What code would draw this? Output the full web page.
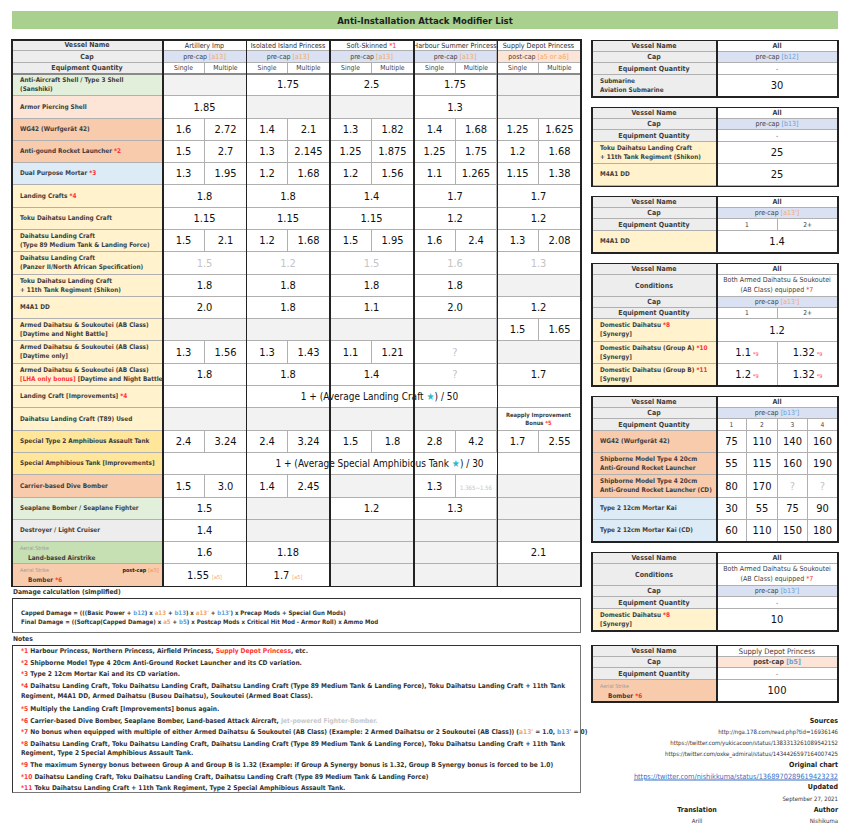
<!DOCTYPE html>
<html><head><meta charset="utf-8">
<script src="https://cdn.jsdelivr.net/npm/chart.js@4.4.1/dist/chart.umd.min.js"></script>
<style>
html,body{margin:0;padding:0;background:#fff;}
#root{position:relative;width:850px;height:837px;overflow:hidden;font-family:"Liberation Sans Narrow","DejaVu Sans Condensed",Roboto,sans-serif;color:#333;}
.c{position:absolute;box-sizing:border-box;display:flex;align-items:center;justify-content:center;text-align:center;white-space:nowrap;}
.t{position:absolute;white-space:nowrap;}
.red{color:#ff3333}
.or{color:#f4a868}
.bl{color:#6a9fd8}
.dim{color:#c4c4c4}
</style></head>
<body><div id="root"></div>
<script>
// ---------------- DATA ----------------
const title = "Anti-Installation Attack Modifier List";
const vessels = ["Artillery Imp","Isolated Island Princess","Soft-Skinned *1","Harbour Summer Princess","Supply Depot Princess"];
const caps = ["pre-cap","pre-cap","pre-cap","pre-cap","post-cap"];
const capRefs = ["[a13]","[a13]","[a13]","[a13]","[a5 or a6]"];
const quantities = ["Single","Multiple"];

const aaShell        = [null,"1.75","2.5","1.75",null];
const apShell        = ["1.85",null,null,"1.3",null];
const wg42           = [["1.6","2.72"],["1.4","2.1"],["1.3","1.82"],["1.4","1.68"],["1.25","1.625"]];
const rocketLauncher = [["1.5","2.7"],["1.3","2.145"],["1.25","1.875"],["1.25","1.75"],["1.2","1.68"]];
const dualMortar     = [["1.3","1.95"],["1.2","1.68"],["1.2","1.56"],["1.1","1.265"],["1.15","1.38"]];
const landingCrafts  = ["1.8","1.8","1.4","1.7","1.7"];
const tokuDaihatsu   = ["1.15","1.15","1.15","1.2","1.2"];
const daihatsuT89    = [["1.5","2.1"],["1.2","1.68"],["1.5","1.95"],["1.6","2.4"],["1.3","2.08"]];
const daihatsuPz2    = [{v:"1.5",dim:true},{v:"1.2",dim:true},{v:"1.5",dim:true},{v:"1.6",dim:true},{v:"1.3",dim:true}];
const toku11th       = ["1.8","1.8","1.8","1.8",null];
const m4a1dd         = ["2.0","1.8","1.1","2.0","1.2"];
const armedDayNight  = [null,null,null,null,["1.5","1.65"]];
const armedDay       = [["1.3","1.56"],["1.3","1.43"],["1.1","1.21"],{v:"?",dim:true},null];
const armedLHA       = ["1.8","1.8","1.4",{v:"?",dim:true},"1.7"];
const landingImprovement = "1 + (Average Landing Craft ★) / 50";
const t89Used        = [null,null,null,null,{v:"Reapply Improvement|Bonus *5",note:true}];
const specialType2   = [["2.4","3.24"],["2.4","3.24"],["1.5","1.8"],["2.8","4.2"],["1.7","2.55"]];
const amphibImprovement = "1 + (Average Special Amphibious Tank ★) / 30";
const diveBomber     = [["1.5","3.0"],["1.4","2.45"],null,["1.3",{v:"1.365~1.56",dim:true,tiny:true}],null];
const seaplane       = ["1.5",null,"1.2","1.3",null];
const destroyer      = ["1.4",null,null,null,null];
const landAirstrike  = ["1.6","1.18",null,null,"2.1"];
const bomberStrike   = [{v:"1.55",ref:"[a5]"},{v:"1.7",ref:"[a5]"},null,null,null];

const submarineLabels = [["Submarine","Aviation Submarine"]];
const submarineValues = [["30"]];
const shikonLabels = [["Toku Daihatsu Landing Craft","+ 11th Tank Regiment (Shikon)"],["M4A1 DD"]];
const shikonValues = [["25"],["25"]];
const ddLabels = [["M4A1 DD"]];
const ddValues = [["1.4"]];
const synergyLabels = [["Domestic Daihatsu *8","[Synergy]"],["Domestic Daihatsu (Group A) *10","[Synergy]"],["Domestic Daihatsu (Group B) *11","[Synergy]"]];
const synergyValues = [["1.2"],["1.1 *9","1.32 *9"],["1.2 *9","1.32 *9"]];
const rocketLabels = [["WG42 (Wurfgerät 42)"],["Shipborne Model Type 4 20cm","Anti-Ground Rocket Launcher"],["Shipborne Model Type 4 20cm","Anti-Ground Rocket Launcher (CD)"],["Type 2 12cm Mortar Kai"],["Type 2 12cm Mortar Kai (CD)"]];
const rocketValues = [["75","110","140","160"],["55","115","160","190"],["80","170","?","?"],["30","55","75","90"],["60","110","150","180"]];
const domesticLabels = [["Domestic Daihatsu *8","[Synergy]"]];
const domesticValues = [["10"]];
const depotLabels = [["Bomber *6"]];
const depotValues = [["100"]];
const conditionText = ["Both Armed Daihatsu & Soukoutei","(AB Class) equipped *7"];

const damageLines = [
 "Capped Damage = (((Basic Power + b12) x a13 + b13) x a13' + b13') x Precap Mods + Special Gun Mods)",
 "Final Damage = ((Softcap(Capped Damage) x a5 + b5) x Postcap Mods x Critical Hit Mod - Armor Roll) x Ammo Mod"
];
const notes = [
 ["*1 Harbour Princess, Northern Princess, Airfield Princess, {r}Supply Depot Princess{/}, etc."],
 ["*2 Shipborne Model Type 4 20cm Anti-Ground Rocket Launcher and its CD variation."],
 ["*3 Type 2 12cm Mortar Kai and its CD variation."],
 ["*4 Daihatsu Landing Craft, Toku Daihatsu Landing Craft, Daihatsu Landing Craft (Type 89 Medium Tank & Landing Force), Toku Daihatsu Landing Craft + 11th Tank","Regiment, M4A1 DD, Armed Daihatsu (Busou Daihatsu), Soukoutei (Armed Boat Class)."],
 ["*5 Multiply the Landing Craft [Improvements] bonus again."],
 ["*6 Carrier-based Dive Bomber, Seaplane Bomber, Land-based Attack Aircraft, {g}Jet-powered Fighter-Bomber.{/}"],
 ["*7 No bonus when equipped with multiple of either Armed Daihatsu & Soukoutei (AB Class) (Example: 2 Armed Daihatsu or 2 Soukoutei (AB Class)) (a13' = 1.0, b13' = 0)"],
 ["*8 Daihatsu Landing Craft, Toku Daihatsu Landing Craft, Daihatsu Landing Craft (Type 89 Medium Tank & Landing Force), Toku Daihatsu Landing Craft + 11th Tank","Regiment, Type 2 Special Amphibious Assault Tank."],
 ["*9 The maximum Synergy bonus between Group A and Group B is 1.32 (Example: if Group A Synergy bonus is 1.32, Group B Synergy bonus is forced to be 1.0)"],
 ["*10 Daihatsu Landing Craft, Toku Daihatsu Landing Craft, Daihatsu Landing Craft (Type 89 Medium Tank & Landing Force)"],
 ["*11 Toku Daihatsu Landing Craft + 11th Tank Regiment, Type 2 Special Amphibious Assault Tank."]
];
const sources = ["http://nga.178.com/read.php?tid=16936146","https://twitter.com/yukicacoon/status/1383313261089542152","https://twitter.com/oxke_admiral/status/1434426597164007425"];
const originalChart = "https://twitter.com/nishikkuma/status/1368970289619423232";
const updated = "September 27, 2021";
const translator = "Arill";
const author = "Nishikuma";

// ---------------- RENDER ----------------
const GREEN='#e2efda', PINK='#fce4d6', SALMON='#f8cbad', BLUE='#ddebf7', YELLOW='#fff2cc', GOLD='#ffe699', LGRAY='#ededed', DGREEN='#c6e0b4';
const HEAD='#ededed', CAPBLUE='#d9e1f2', EMPTY='#f2f2f2';
const GRID='#b0b0b0', DARK='#222';
const root=document.getElementById('root');
const r=Math.round;

function box(x,y,w,h,css,html){const d=document.createElement('div');d.className='c';Object.assign(d.style,{left:x+'px',top:y+'px',width:w+'px',height:h+'px'},css||{});if(html!=null)d.innerHTML=html;root.appendChild(d);return d;}
function cell(x1,y1,x2,y2,bg,html,css){
 if(html && !(css && css.flexDirection==='column')) html=`<span>${html}</span>`;
 return box(r(x1),r(y1),r(x2)-r(x1),r(y2)-r(y1),Object.assign({background:bg||'#fff',borderRight:'1px solid '+GRID,borderBottom:'1px solid '+GRID},css||{}),html);}
function vline(x,y1,y2,c,w){box(x-w/2,y1-w/2,w,y2-y1+w,{background:c});}
function hline(y,x1,x2,c,w){box(x1-w/2,y-w/2,x2-x1+w,w,{background:c});}
function txt(x,y,html,css,align){const d=document.createElement('div');d.className='t';d.innerHTML=html;const st={top:y+'px',transform:'translateY(-50%)'};
 if(align==='r'){st.right=(850-x)+'px';}else if(align==='c'){st.left=x+'px';st.transform='translate(-50%,-50%)';}else st.left=x+'px';
 Object.assign(d.style,st,css||{});root.appendChild(d);return d;}
function fmt(s){return s.replace(/\[LHA only bonus\]/,'<span class="red">$&</span>').replace(/\*\d+/g,'<span class="red">$&</span>');}
function refs(s){return s.replace(/\b([ab])(\d+)('?)/g,(m,a)=>`<span class="${a==='a'?'or':'bl'}">${m}</span>`);}
function capHTML(c,ref){return `${c} <span class="${ref.startsWith('[b')?'bl':'or'}">${ref}</span>`;}
const LABEL={flexDirection:'column',alignItems:'flex-start',justifyContent:'center',paddingLeft:'8px',fontSize:'6.4px',fontWeight:'bold',lineHeight:'8.6px',color:'#3d3d3d',textAlign:'left'};
const HDR={fontSize:'7px',fontWeight:'bold',color:'#3d3d3d'};
const VAL={fontSize:'11px',color:'#111'};
function valHTML(e){
 if(typeof e==='string') return e.replace(/ ?\*\d+/,m=>`<span class="red" style="font-size:5.5px;margin-left:2px">${m.trim()}</span>`);
 let v=e.v;
 if(e.note) return `<div style="font-size:5.8px;font-weight:bold;line-height:8.5px;color:#3d3d3d">${v.split('|').map(fmt).join('<br>')}</div>`;
 if(e.ref) v=`${v}<span class="or" style="font-size:5.5px;margin-left:3px">${e.ref}</span>`;
 if(e.dim) v=`<span class="dim" style="${e.tiny?'font-size:6px':''}">${v}</span>`;
 return v;
}

// title
box(12,11,826,18,{background:'#a9d08e',fontSize:'9.5px',fontWeight:'bold',color:'#1e1e1e'},title);

// left table
const LX0=12, LXL=163, LX1=581, GW=(LX1-LXL)/5, LY0=40, HH=11.33, RH=22.29;
const gx=g=>LXL+g*GW;
const hy=[LY0,LY0+HH,LY0+2*HH,LY0+3*HH];
cell(LX0,hy[0],LXL,hy[1],HEAD,'Vessel Name',HDR);
cell(LX0,hy[1],LXL,hy[2],HEAD,'Cap',HDR);
cell(LX0,hy[2],LXL,hy[3],HEAD,'Equipment Quantity',HDR);
vessels.forEach((v,g)=>{
 cell(gx(g),hy[0],gx(g+1),hy[1],'#fff',fmt(v),Object.assign({},HDR,{fontWeight:'normal',fontSize:'7.1px',color:'#2a2a2a'}));
 cell(gx(g),hy[1],gx(g+1),hy[2],caps[g]==='pre-cap'?CAPBLUE:PINK,capHTML(caps[g],capRefs[g]),Object.assign({},HDR,{fontWeight:'normal',fontSize:'7px'}));
 quantities.forEach((q,k)=>cell(gx(g)+k*GW/2,hy[2],gx(g)+(k+1)*GW/2,hy[3],'#fff',q,Object.assign({},HDR,{fontWeight:'normal',fontSize:'6.8px'})));
});
const bodyRows=[
 {label:["Anti-Aircraft Shell / Type 3 Shell","(Sanshiki)"],bg:GREEN,vals:aaShell},
 {label:["Armor Piercing Shell"],bg:PINK,vals:apShell},
 {label:["WG42 (Wurfgerät 42)"],bg:SALMON,vals:wg42},
 {label:["Anti-gound Rocket Launcher *2"],bg:SALMON,vals:rocketLauncher},
 {label:["Dual Purpose Mortar *3"],bg:BLUE,vals:dualMortar},
 {label:["Landing Crafts *4"],bg:YELLOW,vals:landingCrafts},
 {label:["Toku Daihatsu Landing Craft"],bg:YELLOW,vals:tokuDaihatsu},
 {label:["Daihatsu Landing Craft","(Type 89 Medium Tank & Landing Force)"],bg:YELLOW,vals:daihatsuT89},
 {label:["Daihatsu Landing Craft","(Panzer II/North African Specification)"],bg:YELLOW,vals:daihatsuPz2},
 {label:["Toku Daihatsu Landing Craft","+ 11th Tank Regiment (Shikon)"],bg:YELLOW,vals:toku11th},
 {label:["M4A1 DD"],bg:YELLOW,vals:m4a1dd},
 {label:["Armed Daihatsu & Soukoutei (AB Class)","[Daytime and Night Battle]"],bg:YELLOW,vals:armedDayNight},
 {label:["Armed Daihatsu & Soukoutei (AB Class)","[Daytime only]"],bg:YELLOW,vals:armedDay},
 {label:["Armed Daihatsu & Soukoutei (AB Class)","[LHA only bonus] [Daytime and Night Battle]"],bg:YELLOW,vals:armedLHA},
 {label:["Landing Craft [Improvements] *4"],bg:YELLOW,span:landingImprovement},
 {label:["Daihatsu Landing Craft (T89) Used"],bg:YELLOW,vals:t89Used},
 {label:["Special Type 2 Amphibious Assault Tank"],bg:GOLD,vals:specialType2},
 {label:["Special Amphibious Tank [Improvements]"],bg:GOLD,span:amphibImprovement},
 {label:["Carrier-based Dive Bomber"],bg:SALMON,vals:diveBomber},
 {label:["Seaplane Bomber / Seaplane Fighter"],bg:GREEN,vals:seaplane},
 {label:["Destroyer / Light Cruiser"],bg:LGRAY,vals:destroyer},
 {label:["Land-based Airstrike"],kicker:"Aerial Strike",bg:DGREEN,vals:landAirstrike},
 {label:["Bomber *6"],kicker:"Aerial Strike",tag:"post-cap [a5]",bg:SALMON,vals:bomberStrike}
];
function kickerHTML(label,kicker,tag){
 let h=`<div style="position:absolute;left:8px;top:2px;font-size:5.3px;font-weight:normal;color:#9a9a9a">${kicker}</div><div style="position:absolute;left:16px;top:11.5px">${fmt(label)}</div>`;
 if(tag){const p=tag.split(' ');h+=`<div style="position:absolute;right:3px;top:2px;font-size:5.4px;color:#222">${p[0]} <span class="or">${p[1]}</span></div>`;}
 return h;
}
bodyRows.forEach((row,i)=>{
 const y1=hy[3]+i*RH, y2=y1+RH;
 if(row.kicker) cell(LX0,y1,LXL,y2,row.bg,kickerHTML(row.label[0],row.kicker,row.tag),LABEL);
 else cell(LX0,y1,LXL,y2,row.bg,row.label.map(l=>`<div>${fmt(l)}</div>`).join(''),LABEL);
 if(row.span){
  cell(LXL,y1,LX1,y2,'#fff',row.span.replace('★','<span style="color:#2fb8c8">★</span>'),{fontSize:'10px',color:'#111',paddingLeft:'16px'});
  return;
 }
 row.vals.forEach((e,g)=>{
  if(e===null) cell(gx(g),y1,gx(g+1),y2,EMPTY,'');
  else if(Array.isArray(e)) e.forEach((s,k)=>cell(gx(g)+k*GW/2,y1,gx(g)+(k+1)*GW/2,y2,'#fff',valHTML(s),VAL));
  else cell(gx(g),y1,gx(g+1),y2,'#fff',valHTML(e),VAL);
 });
});
const LY1=hy[3]+bodyRows.length*RH;
hline(hy[3],LX0,LX1,'#8a8a8a',1.2);
[LX0,LXL,gx(1),gx(2),gx(3),gx(4),LX1].forEach(x=>vline(x,LY0,LY1,DARK,1.5));
hline(LY0,LX0,LX1,DARK,1.5); hline(LY1,LX0,LX1,DARK,1.5);

// right tables
const RX0=592, RXS=717, RX1=838;
function rightTable(y0,spec){
 let y=y0;
 const hrow=(lab,h,bg,html,css)=>{cell(RX0,y,RXS,y+h,HEAD,lab,HDR);cell(RXS,y,RX1,y+h,bg,html,css);y+=h;};
 hrow('Vessel Name',HH,'#fff',spec.vessel,Object.assign({},HDR,{fontSize:spec.vessel==='All'?'7px':'7.6px',fontWeight:spec.vessel==='All'?'bold':'normal'}));
 if(spec.cond) hrow('Conditions',22,'#fff',`<div style="line-height:9.5px">${spec.cond.map(fmt).join('<br>')}</div>`,Object.assign({},HDR,{fontWeight:'normal',fontSize:'7px'}));
 hrow('Cap',HH,spec.capBg,capHTML(spec.cap[0],spec.cap[1]),Object.assign({},HDR,{fontWeight:spec.capBg===PINK?'bold':'normal'}));
 cell(RX0,y,RXS,y+HH,HEAD,'Equipment Quantity',HDR);
 const qn=spec.qty.length, qw=(RX1-RXS)/qn;
 spec.qty.forEach((q,k)=>cell(RXS+k*qw,y,RXS+(k+1)*qw,y+HH,'#fff',q,Object.assign({},HDR,{fontWeight:'normal',fontSize:'6.6px'})));
 y+=HH;
 spec.labels.forEach((lab,i)=>{
  const h=22.29;
  if(spec.kicker) cell(RX0,y,RXS,y+h,spec.bgs[i],kickerHTML(lab[0],spec.kicker),LABEL);
  else cell(RX0,y,RXS,y+h,spec.bgs[i],lab.map(l=>`<div>${fmt(l)}</div>`).join(''),LABEL);
  const vals=spec.values[i], vw=(RX1-RXS)/vals.length;
  vals.forEach((v,k)=>cell(RXS+k*vw,y,RXS+(k+1)*vw,y+h,'#fff',v==='?'?'<span class="dim">?</span>':valHTML(v),VAL));
  y+=h;
 });
 [RX0,RXS,RX1].forEach(x=>vline(x,y0,y,DARK,1.5));
 hline(y0,RX0,RX1,DARK,1.5); hline(y,RX0,RX1,DARK,1.5);
}
rightTable(40.7,{vessel:'All',cap:['pre-cap','[b12]'],capBg:CAPBLUE,qty:['-'],labels:submarineLabels,values:submarineValues,bgs:[HEAD]});
rightTable(107.7,{vessel:'All',cap:['pre-cap','[b13]'],capBg:CAPBLUE,qty:['-'],labels:shikonLabels,values:shikonValues,bgs:[YELLOW,YELLOW]});
rightTable(196.7,{vessel:'All',cap:['pre-cap',"[a13']"],capBg:CAPBLUE,qty:['1','2+'],labels:ddLabels,values:ddValues,bgs:[YELLOW]});
rightTable(263.3,{vessel:'All',cond:conditionText,cap:['pre-cap',"[a13']"],capBg:CAPBLUE,qty:['1','2+'],labels:synergyLabels,values:synergyValues,bgs:[YELLOW,YELLOW,YELLOW]});
rightTable(396.7,{vessel:'All',cap:['pre-cap',"[b13']"],capBg:CAPBLUE,qty:['1','2','3','4'],labels:rocketLabels,values:rocketValues,bgs:[SALMON,SALMON,SALMON,BLUE,BLUE]});
rightTable(552.7,{vessel:'All',cond:conditionText,cap:['pre-cap',"[b13']"],capBg:CAPBLUE,qty:['-'],labels:domesticLabels,values:domesticValues,bgs:[YELLOW]});
rightTable(645.7,{vessel:'Supply Depot Princess',cap:['post-cap','[b5]'],capBg:PINK,qty:['-'],labels:depotLabels,values:depotValues,bgs:[SALMON],kicker:'Aerial Strike'});

// damage calculation
const SMALL={fontSize:'6.6px',fontWeight:'bold',color:'#333'};
const HEADSM={fontSize:'6.7px',fontWeight:'bold',color:'#333'};
txt(13,592,'Damage calculation (simplified)',HEADSM);
box(12,598,569,35,{border:'1.5px solid #333',borderBottomColor:'#777',borderRightColor:'#777'});
damageLines.forEach((l,i)=>txt(21,612+i*9,refs(l),Object.assign({},SMALL,{fontSize:'6.1px'})));
txt(13,639,'Notes',HEADSM);
box(12,645,569,148,{border:'1.5px solid #333',borderBottomColor:'#777',borderRightColor:'#777'});
const noteY=[651,662.7,674,[686,695.7],709,720.7,732,[743.7,753],765,776.7,787.7];
notes.forEach((n,i)=>{
 const ys=Array.isArray(noteY[i])?noteY[i]:[noteY[i]];
 n.forEach((line,k)=>{
  let h=line.replace(/\{r\}(.*?)\{\/\}/,'<span class="red">$1</span>').replace(/\{g\}(.*?)\{\/\}/,'<span style="color:#c8c8c8">$1</span>');
  if(k===0) h=h.replace(/^\*\d+/,'<span class="red">$&</span>');
  if(i===6) h=refs(h);
  txt(21,ys[k],h,SMALL);
 });
});

// sources
const HB={fontSize:'7px',fontWeight:'bold',color:'#222'};
const SM={fontSize:'6px',color:'#333'};
txt(838,721,'Sources',HB,'r');
sources.forEach((s,i)=>txt(838,730.5+i*11,s,SM,'r'));
txt(838,765,'Original chart',HB,'r');
txt(838,776,originalChart,{fontSize:'7.3px',color:'#3b6fc4',textDecoration:'underline'},'r');
txt(838,787,'Updated',HB,'r');
txt(838,797.5,updated,SM,'r');
txt(697,810,'Translation',HB,'c');
txt(697,820,translator,SM,'c');
txt(838,810,'Author',HB,'r');
txt(838,820,author,SM,'r');
</script>
</body></html>
